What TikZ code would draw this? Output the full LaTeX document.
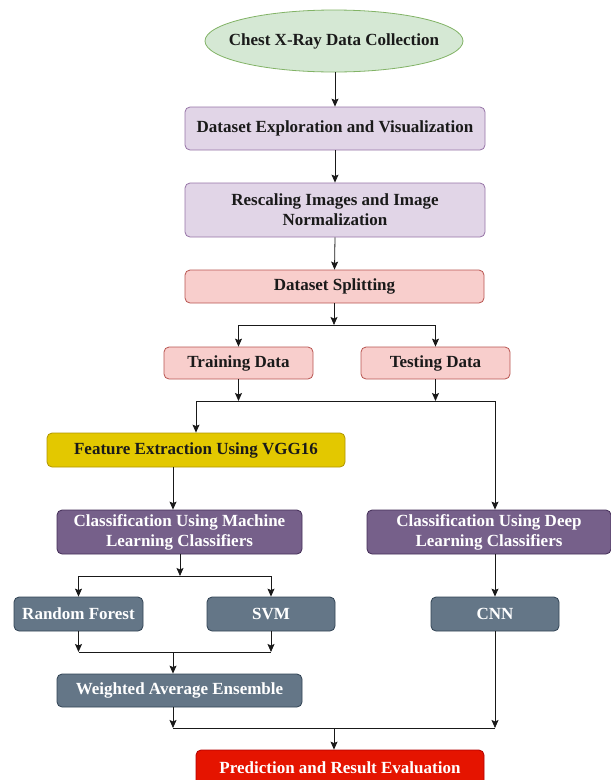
\documentclass[tikz,border=0pt]{standalone}
\usepackage{fontspec}
\setmainfont{Liberation Serif}
\usetikzlibrary{arrows.meta,shapes.geometric}
\definecolor{gfill}{HTML}{D5E8D4}\definecolor{gdraw}{HTML}{82B366}
\definecolor{lfill}{HTML}{E1D5E7}\definecolor{ldraw}{HTML}{9673A6}
\definecolor{pfill}{HTML}{F8CECC}\definecolor{pdraw}{HTML}{B85450}
\definecolor{yfill}{HTML}{E3C800}\definecolor{ydraw}{HTML}{B09500}
\definecolor{vfill}{HTML}{76608A}\definecolor{vdraw}{HTML}{432D57}
\definecolor{sfill}{HTML}{647687}\definecolor{sdraw}{HTML}{314354}
\definecolor{rfill}{HTML}{E51400}\definecolor{rdraw}{HTML}{B20000}
\definecolor{txt}{HTML}{1A1A1A}
\tikzset{
  base/.style={draw, line width=0.8pt, rounded corners=5pt, inner sep=0pt, align=center,
    font=\fontsize{17}{20}\selectfont\bfseries, text=txt, anchor=center},
  bx/.style args={#1x#2}{base, minimum width=#1pt, minimum height=#2pt},
  green/.style={fill=gfill, draw=gdraw},
  lav/.style={fill=lfill, draw=ldraw},
  pink/.style={fill=pfill, draw=pdraw},
  yel/.style={fill=yfill, draw=ydraw},
  vio/.style={fill=vfill, draw=vdraw, text=white},
  slate/.style={fill=sfill, draw=sdraw, text=white},
  redb/.style={fill=rfill, draw=rdraw, text=white},
  arr/.style={draw=black!90, line width=0.8pt, -{Stealth[length=8pt,width=7pt,inset=1.5pt]}},
  ln/.style={draw=black!90, line width=0.8pt}
}
\begin{document}
\begin{tikzpicture}[x=1pt,y=-1pt]
\useasboundingbox (0,0) rectangle (611,780);
\clip (0,0) rectangle (611,780);
% nodes
\node[ellipse, green, line width=0.8pt, minimum width=258pt, minimum height=62pt,
  inner sep=0pt] (coll) at (334,41) {};
\node[font=\fontsize{17}{20}\selectfont\bfseries, text=txt, inner sep=0pt] (colltext) at (coll.center) {Chest X-Ray Data Collection};
\node[bx=300x43, lav] (explore) at (335,128.5) {Dataset Exploration and Visualization};
\node[bx=300x54, lav] (rescale) at (335,210) {Rescaling Images and Image\\Normalization};
\node[bx=299x33, pink] (split) at (334.5,286.5) {Dataset Splitting};
\node[bx=149x32, pink] (train) at (238.5,363) {Training Data};
\node[bx=149x32, pink] (test) at (435.5,363) {Testing Data};
\node[bx=298x34, yel] (feat) at (196,450) {Feature Extraction Using VGG16};
\node[bx=245x44, vio] (ml) at (179.5,532) {Classification Using Machine\\Learning Classifiers};
\node[bx=244x44, vio] (dl) at (489,532) {Classification Using Deep\\Learning Classifiers};
\node[bx=129x34, slate] (rf) at (78.5,614) {Random Forest};
\node[bx=128x34, slate] (svm) at (271,614) {SVM};
\node[bx=128x34, slate] (cnn) at (495,614) {CNN};
\node[bx=245x33, slate] (wae) at (179.5,690.5) {Weighted Average Ensemble};
\node[bx=288x36, redb] (pred) at (340,768) {Prediction and Result Evaluation};
% junction coordinates
\coordinate (j1) at (334,325);
\coordinate (j2) at (196,401);
\coordinate (j2r) at (495,401);
\coordinate (j3) at (180,576);
\coordinate (fx) at (173,0);
\coordinate (j4) at (173,652);
\coordinate (j5) at (334,728);
% connectors
\draw[arr] (coll.south -| explore.north) -- (explore.north);
\draw[arr] (explore.south) -- (rescale.north);
\draw[arr] (rescale.south) -- (split.north);
\draw[arr] (split.south -| j1) -- (j1);
\draw[ln] (train.north |- j1) -- (test.north |- j1);
\draw[arr] (train.north |- j1) -- (train.north);
\draw[arr] (test.north |- j1) -- (test.north);
\draw[arr] (train.south) -- (train.south |- j2);
\draw[arr] (test.south) -- (test.south |- j2);
\draw[ln] (j2) -- (j2r);
\draw[arr] (j2) -- (feat.north);
\draw[arr] (j2r) -- (j2r |- dl.north);
\draw[arr] (feat.south -| fx) -- (ml.north -| fx);
\draw[arr] (ml.south -| j3) -- (j3);
\draw[ln] (rf.north |- j3) -- (svm.north |- j3);
\draw[arr] (rf.north |- j3) -- (rf.north);
\draw[arr] (svm.north |- j3) -- (svm.north);
\draw[arr] (j2r |- dl.south) -- (cnn.north);
\draw[arr] (rf.south) -- (rf.south |- j4);
\draw[arr] (svm.south) -- (svm.south |- j4);
\draw[ln] (rf.south |- j4) -- (svm.south |- j4);
\draw[arr] (j4) -- (wae.north -| j4);
\draw[arr] (wae.south -| j4) -- (j4 |- j5);
\draw[arr] (cnn.south) -- (cnn.south |- j5);
\draw[ln] (j4 |- j5) -- (cnn.south |- j5);
\draw[arr] (j5) -- (pred.north -| j5);
\end{tikzpicture}
\end{document}
